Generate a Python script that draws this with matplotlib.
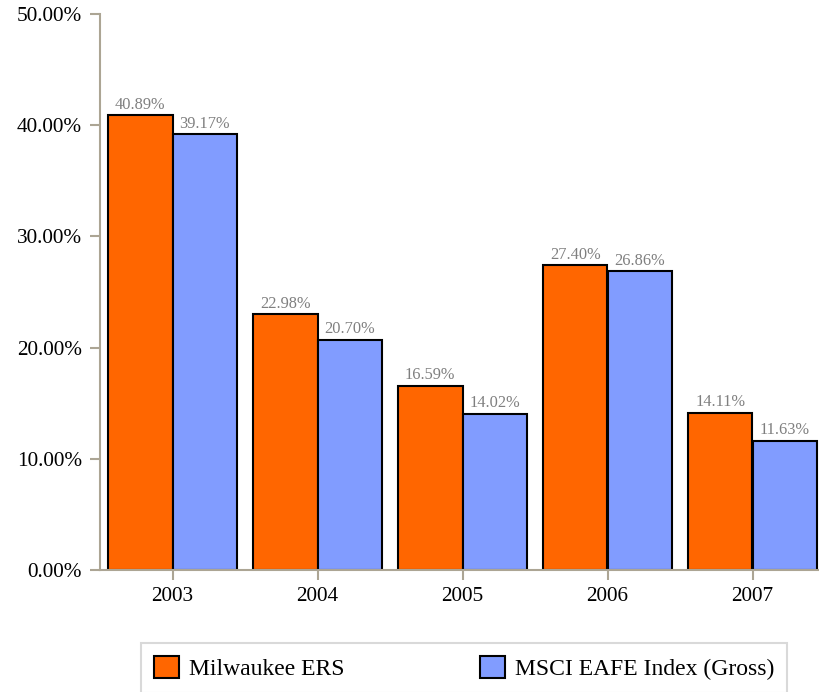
import numpy as np
import matplotlib
matplotlib.use("Agg")
import matplotlib.pyplot as plt

# data
years = ["2003", "2004", "2005", "2006", "2007"]
milwaukee = [40.89, 22.98, 16.59, 27.40, 14.11]
msci = [39.17, 20.70, 14.02, 26.86, 11.63]
series_names = ["Milwaukee ERS", "MSCI EAFE Index (Gross)"]
y_ticks = [0, 10, 20, 30, 40, 50]

plt.rcParams["font.family"] = ["Liberation Serif", "DejaVu Serif"]

orange = "#ff6600"
blue = "#819cff"
axis_col = "#aca594"

fig = plt.figure(figsize=(8.19, 6.92), dpi=100)
ax = fig.add_axes([100 / 819, 1 - 570 / 692, 725 / 819, 556 / 692])

x = np.arange(len(years))
w = 0.445
b1 = ax.bar(x - w / 2, milwaukee, w, color=orange, edgecolor="black", linewidth=1.5, label=series_names[0])
b2 = ax.bar(x + w / 2, msci, w, color=blue, edgecolor="black", linewidth=1.5, label=series_names[1])

for bars, vals in ((b1, milwaukee), (b2, msci)):
    for r, v in zip(bars, vals):
        ax.annotate(f"{v:.2f}%", (r.get_x() + r.get_width() / 2, v),
                    xytext=(0, 2), textcoords="offset points",
                    ha="center", va="bottom", fontsize=11.8, color="#7f7f7f")

ax.set_xlim(-0.5, len(years) - 0.5)
ax.set_ylim(0, 50)
ax.set_yticks(y_ticks)
ax.set_yticklabels([f"{t:.2f}%" for t in y_ticks])
ax.set_xticks(x)
ax.set_xticklabels(years)

for s in ("top", "right"):
    ax.spines[s].set_visible(False)
for s in ("left", "bottom"):
    ax.spines[s].set_color(axis_col)
    ax.spines[s].set_linewidth(1.5)
ax.tick_params(axis="both", colors=axis_col, length=7, width=1.5, labelsize=15.3, labelcolor="black")
ax.tick_params(axis="y", pad=6)
ax.tick_params(axis="x", pad=5)

# legend box spans x 141..787, top edge at y=643
top = 1 - 643 / 692
leg = fig.legend(handles=[b1, b2], loc="upper left", ncol=2, mode="expand",
                 bbox_to_anchor=(141 / 819, top - 0.2, 646 / 819, 0.2),
                 frameon=True, fancybox=False, edgecolor="#d0d0d0",
                 fontsize=17, handlelength=1.05, handleheight=1.05,
                 handletextpad=0.42, borderaxespad=0, borderpad=0.55)
leg.get_frame().set_linewidth(1.5)

fig.savefig("out.png", dpi=100)
